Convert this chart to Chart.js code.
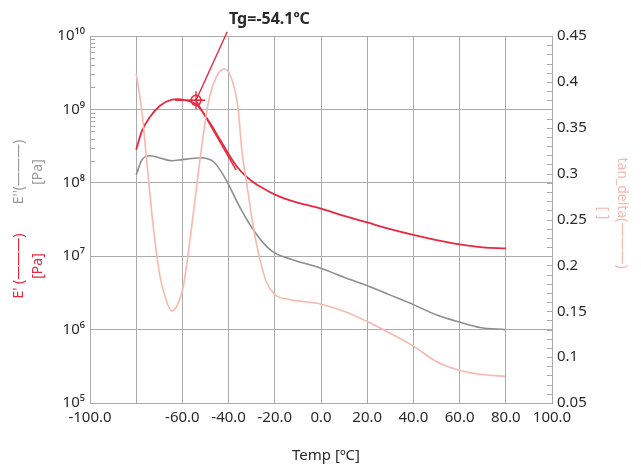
<!DOCTYPE html>
<html>
<head>
<meta charset="utf-8">
<script src="https://cdn.jsdelivr.net/npm/chart.js@4.4.0/dist/chart.umd.min.js"></script>
<style>
  html, body { margin: 0; padding: 0; background: #fff; }
  canvas { display: block; }
</style>
</head>
<body>
<canvas id="c" width="641" height="466"></canvas>
<script>
// ---------- data ----------
const xTicks = [-100, -80, -60, -40, -20, 0, 20, 40, 60, 80, 100];
const yDecades = [1e5, 1e6, 1e7, 1e8, 1e9, 1e10];
const y2Ticks = [0.05, 0.1, 0.15, 0.2, 0.25, 0.3, 0.35, 0.4, 0.45];

// E' storage modulus [Pa]
const ePrimeTemp = [-80, -77.6, -74, -69.7, -64.6, -62, -59.6, -53.8, -48, -43.7, -39.4, -35.8, -32.9, -29.3, -26.4, -19.9, -13.4, -0.4, 10, 20, 30, 40, 50, 60, 70, 80];
const ePrime = [2.82e8, 5.01e8, 7.94e8, 1.12e9, 1.36e9, 1.38e9, 1.35e9, 1.15e9, 6.46e8, 3.85e8, 2.29e8, 1.58e8, 1.26e8, 1.02e8, 8.9e7, 6.9e7, 5.75e7, 4.47e7, 3.55e7, 2.88e7, 2.34e7, 1.95e7, 1.66e7, 1.45e7, 1.32e7, 1.28e7];

// E'' loss modulus [Pa]
const eDoubleTemp = [-80, -77.6, -74, -69, -64.6, -60, -56, -52, -49.5, -46.6, -43.7, -40.4, -35.5, -29.3, -23.5, -19.9, -12, -0.4, 12.6, 19.8, 30, 40, 50.1, 60.2, 68.8, 79.7];
const eDouble = [1.29e8, 2.04e8, 2.34e8, 2.14e8, 2.0e8, 2.07e8, 2.14e8, 2.19e8, 2.14e8, 1.95e8, 1.5e8, 1.0e8, 4.9e7, 2.29e7, 1.35e7, 1.1e7, 8.9e6, 6.9e6, 4.8e6, 4.0e6, 2.95e6, 2.19e6, 1.58e6, 1.26e6, 1.07e6, 1.0e6];

// tan delta [ ]
const tanTemp = [-80, -77.6, -75.5, -72.6, -69.7, -67, -64.6, -62, -59.6, -56, -52.4, -48.8, -45.2, -41.6, -38, -35.8, -34.3, -32.2, -29.3, -26.4, -23.5, -19.9, -14.2, -0.4, 10, 19.8, 28.4, 40, 50.1, 60.2, 70, 79.7];
const tanDelta = [0.409, 0.369, 0.315, 0.242, 0.188, 0.162, 0.150, 0.158, 0.177, 0.242, 0.315, 0.377, 0.406, 0.414, 0.398, 0.369, 0.326, 0.290, 0.242, 0.206, 0.181, 0.168, 0.163, 0.158, 0.150, 0.139, 0.128, 0.112, 0.095, 0.0855, 0.081, 0.079];

// Tg construction
const tg = -54.1;
const tgValue = 1.33e9;
const tangentFlatTemp = [-63.2, -51];
const tangentFlatValue = [1.33e9, 1.33e9];
const tangentSteepTemp = [-54.1, -36.8];
const tangentSteepValue = [1.33e9, 1.5e8];
const leaderTemp = [-54.1, -40.6];
const leaderValue = [1.33e9, 1.14e10];

const tgLabel = 'Tg=-54.1ºC';
const xTitle = 'Temp [ºC]';

// ---------- helpers ----------
const pts = (xs, ys) => xs.map((x, i) => ({ x: x, y: ys[i] }));
const SUP = { '0': '⁰', '1': '¹', '2': '²', '3': '³', '4': '⁴', '5': '⁵', '6': '⁶', '7': '⁷', '8': '⁸', '9': '⁹', '-': '⁻' };
const sup = n => String(n).split('').map(c => SUP[c]).join('');

const RED = '#e8283f';
const GREY = '#8e8e8e';
const PINK = '#f7b8ad';
const GRID = '#ababab';
const TXT = '#2a2a2a';
const FONT = '"Noto Sans", sans-serif';

const textPlugin = {
  id: 'texts',
  afterDraw(chart) {
    const ctx = chart.ctx;
    const ca = chart.chartArea;
    const y = chart.scales.y, y2 = chart.scales.y2;
    ctx.save();
    // minor ticks right axis
    ctx.strokeStyle = GRID; ctx.lineWidth = 1;
    for (let i = 0; i <= 40; i++) {
      const v = 0.05 + i * 0.01;
      const py = Math.round(y2.getPixelForValue(v)) + 0.5;
      ctx.beginPath(); ctx.moveTo(ca.right - 5, py); ctx.lineTo(ca.right, py); ctx.stroke();
    }
    // minor ticks left log axis (upper decades)
    for (let d = 8; d <= 9; d++) {
      for (let m = 2; m <= 9; m++) {
        const py = Math.round(y.getPixelForValue(m * Math.pow(10, d))) + 0.5;
        ctx.beginPath(); ctx.moveTo(ca.left, py); ctx.lineTo(ca.left + 5, py); ctx.stroke();
      }
    }
    const rot = (lines, cx, cy, angle, color) => {
      ctx.save();
      ctx.translate(cx, cy); ctx.rotate(angle);
      ctx.fillStyle = color; ctx.textAlign = 'center'; ctx.textBaseline = 'middle';
      ctx.font = '14px ' + FONT;
      lines.forEach((t, i) => ctx.fillText(t, 0, (i - (lines.length - 1) / 2) * 19));
      ctx.restore();
    };
    rot(["E' (———)", '[Pa]'], 29, 266, -Math.PI / 2, RED);
    rot(["E''(———)", '[Pa]'], 29, 172, -Math.PI / 2, '#9a9a9a');
    rot(['tan_delta(———)', '[ ]'], 612, 213, Math.PI / 2, PINK);
    // Tg label
    ctx.fillStyle = TXT; ctx.textAlign = 'left'; ctx.textBaseline = 'alphabetic';
    ctx.font = 'bold 16px ' + FONT;
    ctx.fillText(tgLabel, 229, 24);
    // x title
    ctx.font = '15px ' + FONT; ctx.textAlign = 'center'; ctx.textBaseline = 'middle';
    ctx.fillText(xTitle, 326, 456);
    ctx.restore();
  }
};

new Chart(document.getElementById('c'), {
  type: 'line',
  data: {
    datasets: [
      { label: 'tan_delta', data: pts(tanTemp, tanDelta), yAxisID: 'y2', borderColor: PINK, borderWidth: 1.6, pointRadius: 0, cubicInterpolationMode: 'monotone', fill: false },
      { label: "E''", data: pts(eDoubleTemp, eDouble), yAxisID: 'y', borderColor: GREY, borderWidth: 1.6, pointRadius: 0, cubicInterpolationMode: 'monotone', fill: false },
      { label: "E'", data: pts(ePrimeTemp, ePrime), yAxisID: 'y', borderColor: RED, borderWidth: 1.8, pointRadius: 0, cubicInterpolationMode: 'monotone', fill: false },
      { label: 'flat', data: pts(tangentFlatTemp, tangentFlatValue), yAxisID: 'y', borderColor: RED, borderWidth: 1.4, pointRadius: 0, tension: 0 },
      { label: 'steep', data: pts(tangentSteepTemp, tangentSteepValue), yAxisID: 'y', borderColor: RED, borderWidth: 1.4, pointRadius: 0, tension: 0 },
      { label: 'leader', data: pts(leaderTemp, leaderValue), yAxisID: 'y', borderColor: RED, borderWidth: 1.4, pointRadius: 0, tension: 0, clip: false },
      { label: 'tgc', data: [{ x: tg, y: tgValue }], yAxisID: 'y', showLine: false, pointStyle: 'circle', pointRadius: 5, borderColor: RED, backgroundColor: 'rgba(0,0,0,0)', pointBorderWidth: 1.5 },
      { label: 'tgx', data: [{ x: tg, y: tgValue }], yAxisID: 'y', showLine: false, pointStyle: 'cross', pointRadius: 9, borderColor: RED, pointBorderWidth: 1.4 }
    ]
  },
  options: {
    responsive: false,
    animation: false,
    devicePixelRatio: 1,
    layout: { padding: { top: 36, left: 0, right: 0, bottom: 0 } },
    plugins: { legend: { display: false }, tooltip: { enabled: false }, title: { display: false } },
    scales: {
      x: {
        type: 'linear', min: -100, max: 100,
        afterBuildTicks: s => { s.ticks = xTicks.map(v => ({ value: v })); },
        ticks: {
          color: TXT, font: { size: 15, family: FONT }, padding: 6, maxRotation: 0, autoSkip: false,
          callback: v => (v === -80 ? '' : v.toFixed(1))
        },
        grid: { color: GRID, drawTicks: false },
        border: { color: GRID },
        afterFit: s => { s.height = 63; }
      },
      y: {
        type: 'logarithmic', position: 'left', min: 1e5, max: 1e10,
        afterBuildTicks: s => { s.ticks = yDecades.map(v => ({ value: v })); },
        ticks: {
          color: TXT, font: { size: 15, family: FONT }, padding: 5,
          callback: v => '10' + sup(Math.round(Math.log10(v)))
        },
        grid: { color: GRID, drawTicks: false },
        border: { color: GRID },
        afterFit: s => { s.width = 90; }
      },
      y2: {
        type: 'linear', position: 'right', min: 0.05, max: 0.45,
        afterBuildTicks: s => { s.ticks = y2Ticks.map(v => ({ value: v })); },
        ticks: {
          color: TXT, font: { size: 15, family: FONT }, padding: 5,
          callback: v => String(Number(v.toFixed(2)))
        },
        grid: { drawOnChartArea: false, drawTicks: false },
        border: { color: GRID },
        afterFit: s => { s.width = 89; }
      }
    }
  },
  plugins: [textPlugin]
});
</script>
</body>
</html>
